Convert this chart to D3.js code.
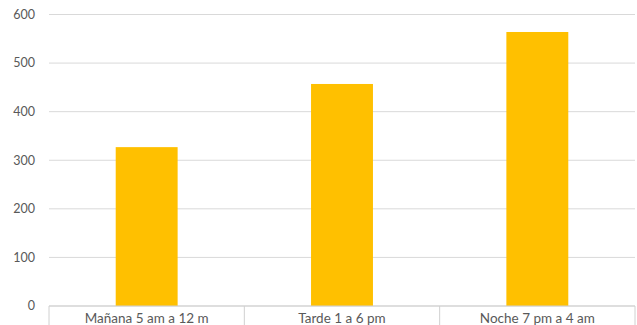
<!DOCTYPE html>
<html>
<head>
<meta charset="utf-8">
<script src="https://cdn.jsdelivr.net/npm/d3@7"></script>
<style>
body { margin: 0; background: #fff; }
text { font-family: Lato, "Open Sans", sans-serif; fill: #595959; }
</style>
</head>
<body>
<svg width="637" height="325"></svg>
<script>
var categories = ["Mañana 5 am a 12 m", "Tarde 1 a 6 pm", "Noche 7 pm a 4 am"];
var values = [327, 457, 564];
var yTicks = [0, 100, 200, 300, 400, 500, 600];

var svg = d3.select("svg");
var plotLeft = 49, plotRight = 635, plotTop = 14.5, plotBottom = 306;

var xScale = d3.scaleBand().domain(categories).range([plotLeft, plotRight]).padding(0);
var yScale = d3.scaleLinear().domain([0, 600]).range([plotBottom, plotTop]);
var barW = xScale.bandwidth() * 0.317;

// gridlines
svg.append("g")
  .selectAll("line")
  .data(yTicks)
  .enter()
  .append("line")
  .attr("x1", plotLeft)
  .attr("x2", plotRight)
  .attr("y1", d => yScale(d))
  .attr("y2", d => yScale(d))
  .attr("stroke", "#d9d9d9")
  .attr("stroke-width", 1);

// y labels
svg.append("g")
  .selectAll("text")
  .data(yTicks)
  .enter()
  .append("text")
  .attr("x", 35)
  .attr("y", d => yScale(d))
  .attr("dy", "0.35em")
  .attr("text-anchor", "end")
  .attr("font-size", 12.5)
  .text(d => d);

// bars
svg.append("g")
  .selectAll("rect")
  .data(values)
  .enter()
  .append("rect")
  .attr("x", (d, i) => xScale(categories[i]) + (xScale.bandwidth() - barW) / 2)
  .attr("y", d => yScale(d))
  .attr("width", barW)
  .attr("height", d => yScale(0) - yScale(d))
  .attr("fill", "#ffc000");

// category axis with dividers
var xAxis = svg.append("g");
xAxis.append("line")
  .attr("x1", plotLeft).attr("x2", plotRight)
  .attr("y1", plotBottom).attr("y2", plotBottom)
  .attr("stroke", "#d0d0d0");

var edges = categories.map(c => xScale(c)).concat([plotRight]);
xAxis.selectAll(".div")
  .data(edges)
  .enter()
  .append("line")
  .attr("class", "div")
  .attr("x1", d => d).attr("x2", d => d)
  .attr("y1", plotBottom).attr("y2", 325)
  .attr("stroke", "#d0d0d0");

xAxis.selectAll(".lbl")
  .data(categories)
  .enter()
  .append("text")
  .attr("class", "lbl")
  .attr("x", d => xScale(d) + xScale.bandwidth() / 2)
  .attr("y", 318)
  .attr("dy", "0.35em")
  .attr("text-anchor", "middle")
  .attr("font-size", 13.5)
  .text(d => d);
</script>
</body>
</html>
